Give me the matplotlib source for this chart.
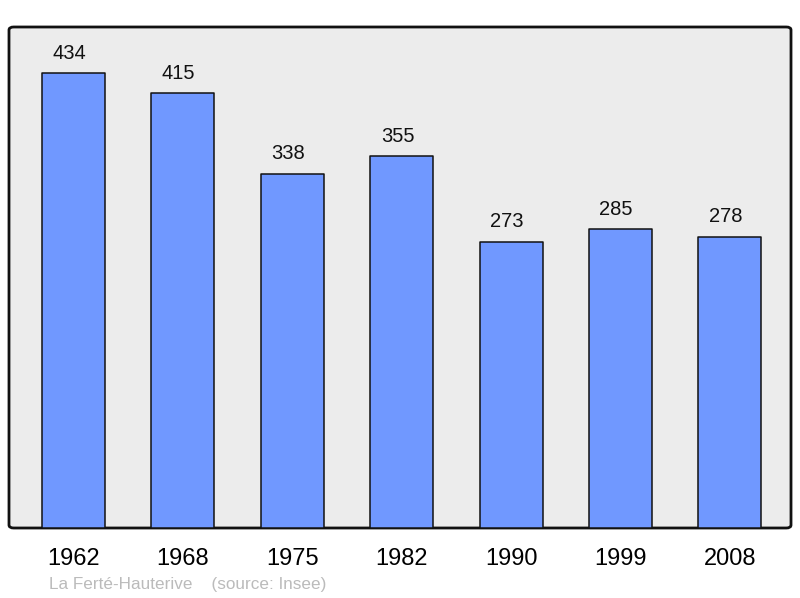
import matplotlib
matplotlib.use("Agg")
import matplotlib.pyplot as plt
from matplotlib.patches import FancyBboxPatch

years = ["1962", "1968", "1975", "1982", "1990", "1999", "2008"]
population = [434, 415, 338, 355, 273, 285, 278]

plt.rcParams['font.family'] = ['Liberation Sans', 'DejaVu Sans']

fig = plt.figure(figsize=(8, 5.98), dpi=100)
ax = fig.add_axes([9/800, 70/598, 782/800, 501/598])
ax.set_xlim(-0.59, 6.56)
ax.set_ylim(0, 478)
ax.set_facecolor('none')
for s in ax.spines.values():
    s.set_visible(False)

bg = FancyBboxPatch((0, 0), 1, 1, boxstyle="round,pad=0,rounding_size=0.006",
                    transform=ax.transAxes, facecolor='#ececec', edgecolor='#111111',
                    linewidth=2, zorder=0, clip_on=False)
ax.add_patch(bg)

x = list(range(len(years)))
bars = ax.bar(x, population, width=0.576, color='#7098ff', edgecolor='#111111',
              linewidth=1.1, zorder=2)
for b in bars:
    b.set_joinstyle('round')
for xi, v in zip(x, population):
    ax.annotate(str(v), (xi, v), xytext=(-3, 7.5), textcoords='offset points',
                ha='center', va='bottom', fontsize=14.5, color='#111111')

ax.set_xticks(x)
ax.set_xticklabels(years, fontsize=17)
ax.tick_params(axis='x', length=0, pad=14.5)
ax.set_yticks([])

fig.text(49/800, 1 - 584/598, "La Ferté-Hauterive    (source: Insee)", fontsize=12.3,
         color='#bbbbbb', ha='left', va='center')

fig.savefig("out.png", dpi=100)
